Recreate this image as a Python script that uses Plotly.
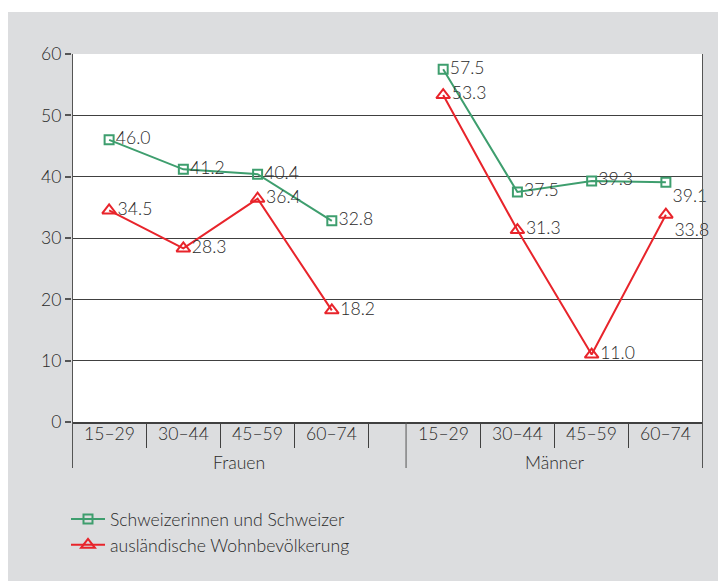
import plotly.graph_objects as go

# ---- data ----
age_groups = ["15–29", "30–44", "45–59", "60–74"]
sex_groups = ["Frauen", "Männer"]
series_names = ["Schweizerinnen und Schweizer", "ausländische Wohnbevölkerung"]
frauen_ch = [46.0, 41.2, 40.4, 32.8]
maenner_ch = [57.5, 37.5, 39.3, 39.1]
frauen_aus = [34.5, 28.3, 36.4, 18.2]
maenner_aus = [53.3, 31.3, 11.0, 33.8]
y_ticks = [0, 10, 20, 30, 40, 50, 60]

# ---- layout helpers (category slots; half-slot gap between groups) ----
n = len(age_groups)
gap = 0.5
group_start = [0, n + gap]
total = 2 * n + gap
xs_f = [group_start[0] + i + 0.5 for i in range(n)]
xs_m = [group_start[1] + i + 0.5 for i in range(n)]
x_all = xs_f + [None] + xs_m

GREEN = "#3E9E6E"
RED = "#E8242B"
TXT = "#2A2A2A"
GRID = "#404040"
FONT = "Lato"
WEIGHT = 300
FS = 17.6

OFF = 8  # page body margin
W, H = 726 - OFF, 581 - OFF
L = 72 - OFF
T = 54 - OFF
R = W - (703 - OFF)
B = H - (422 - OFF)
pw, ph = W - L - R, H - T - B


def py(sy):  # screen pixel y -> paper y
    return (H - B - (sy - OFF)) / ph


def px(sx):
    return (sx - OFF - L) / pw


def f(size=FS):
    return dict(family=FONT, size=size, color=TXT, weight=WEIGHT)


fig = go.Figure()

ch_vals = frauen_ch + [None] + maenner_ch
aus_vals = frauen_aus + [None] + maenner_aus
pos_ch = ["middle right"] * (2 * n + 1)
pos_aus = ["middle right"] * (2 * n + 1)
pos_ch[-1] = "bottom right"
pos_aus[-1] = "bottom right"

fig.add_trace(go.Scatter(
    x=x_all, y=ch_vals, name=series_names[0], mode="lines+markers+text",
    text=[("%.1f" % v) if v is not None else "" for v in ch_vals],
    textposition=pos_ch, textfont=f(),
    line=dict(color=GREEN, width=2),
    marker=dict(symbol="square-open", size=9, color=GREEN, line=dict(width=2, color=GREEN)),
    connectgaps=False, cliponaxis=False,
))
fig.add_trace(go.Scatter(
    x=x_all, y=aus_vals, name=series_names[1], mode="lines+markers+text",
    text=[("%.1f" % v) if v is not None else "" for v in aus_vals],
    textposition=pos_aus, textfont=f(),
    line=dict(color=RED, width=2),
    marker=dict(symbol="triangle-up-open", size=12, color=RED, line=dict(width=2, color=RED)),
    connectgaps=False, cliponaxis=False,
))

shapes = [
    # thin white strip above the grey panel
    dict(type="rect", xref="paper", yref="paper", x0=px(0), x1=px(800), y0=py(12), y1=py(0),
         fillcolor="white", line=dict(width=0), layer="below"),
]
# long group separators / frame verticals
for xv, ytop, wd in [(0, 1, 2), (group_start[1], 0, 1), (total, 1, 2)]:
    shapes.append(dict(type="line", xref="x", yref="paper", x0=xv, x1=xv, y0=py(468), y1=ytop,
                       line=dict(color="#555555", width=wd)))

annotations = []
for xs in (xs_f, xs_m):
    for i, xv in enumerate(xs):
        annotations.append(dict(x=xv, y=py(433), xref="x", yref="paper", text=age_groups[i],
                                xanchor="center", yanchor="middle",
                                showarrow=False, font=f()))
centers = [(group_start[0] + group_start[1]) / 2, (group_start[1] + total) / 2]
for c, lab in zip(centers, sex_groups):
    annotations.append(dict(x=c, y=py(463), xref="x", yref="paper", text=lab,
                            xanchor="center", yanchor="middle", showarrow=False, font=f()))

tick_x = [group_start[0] + i for i in range(1, n + 1)] + [group_start[1] + i for i in range(1, n)]

fig.update_layout(
    width=W, height=H,
    margin=dict(l=L, r=R, t=T, b=B, pad=0),
    paper_bgcolor="#DCDDDF", plot_bgcolor="white",
    font=f(),
    showlegend=True,
    legend=dict(x=px(66), y=py(501), xanchor="left", yanchor="top", bgcolor="rgba(0,0,0,0)",
                font=f(), tracegroupgap=0, itemwidth=34),
    xaxis=dict(range=[0, total], showgrid=False, zeroline=False, showline=True,
               linecolor="#404040", linewidth=1.5, tickvals=tick_x, ticktext=[""] * len(tick_x),
               ticks="outside", ticklen=24, tickcolor="#404040", tickwidth=1, fixedrange=True),
    yaxis=dict(range=[0, 60], tickvals=y_ticks, showgrid=True, gridcolor=GRID, gridwidth=1,
               zeroline=False, showline=False, ticks="outside", ticklen=6, tickcolor="#555555",
               tickwidth=1.5, tickfont=f(), fixedrange=True),
    shapes=shapes, annotations=annotations,
)

fig.write_html("out.html")
